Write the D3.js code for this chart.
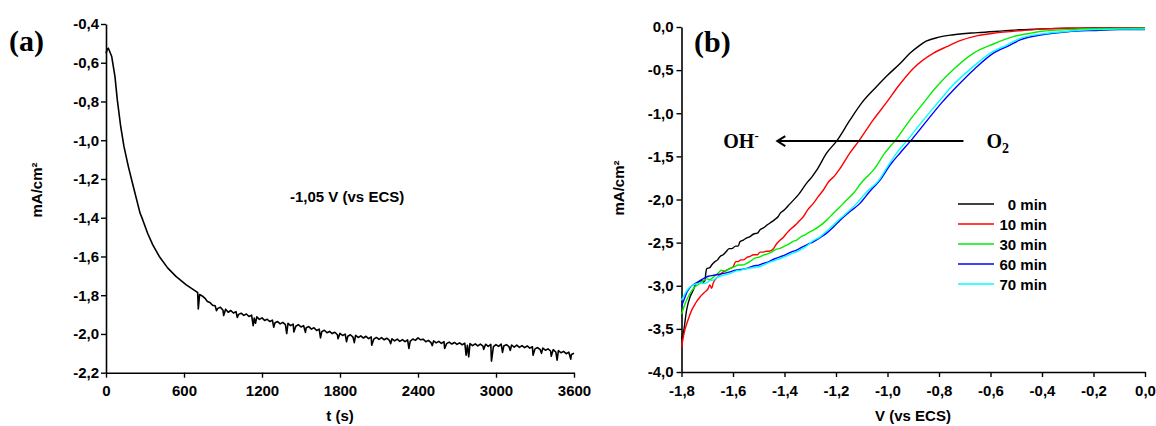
<!DOCTYPE html>
<html>
<head>
<meta charset="utf-8">
<script src="https://cdn.jsdelivr.net/npm/d3@7/dist/d3.min.js"></script>
<style>
  html, body { margin: 0; padding: 0; background: #fff; }
  svg { display: block; }
  .tick text { font-family: "Liberation Sans", Arial, sans-serif; font-weight: bold; font-size: 15px; fill: #000; }
  .lbl { font-family: "Liberation Sans", Arial, sans-serif; font-weight: bold; font-size: 15px; fill: #000; }
  .serif { font-family: "Liberation Serif", "Times New Roman", serif; font-weight: bold; fill: #000; }
</style>
</head>
<body>
<svg id="chart" width="1156" height="426"></svg>
<script>
// ---------------- Panel (a): chronoamperometry ----------------
// decay part
const tDecay = [0, 10, 18, 44, 69, 87, 113, 138, 172, 210, 262, 282, 320, 359, 410, 474, 538, 615, 692, 705];
const jDecay = [-0.551, -0.530, -0.525, -0.568, -0.672, -0.792, -0.929, -1.032, -1.136, -1.239, -1.376, -1.410, -1.480, -1.539, -1.600, -1.659, -1.703, -1.745, -1.780, -1.786];
// noisy plateau part
const tNoise = [720,740,760,780,800,820,840,860,880,900,920,940,960,980,1000,1020,1040,1060,1080,1100,1120,1140,1160,1180,1200,
  1220,1240,1260,1280,1300,1320,1340,1360,1380,1400,1420,1440,1460,1480,1500,1520,1540,1560,1580,1600,1620,1640,1660,1680,1700,
  1720,1740,1760,1780,1800,1820,1840,1860,1880,1900,1920,1940,1960,1980,2000,2020,2040,2060,2080,2100,2120,2140,2160,2180,2200,
  2220,2240,2260,2280,2300,2320,2340,2360,2380,2400,2420,2440,2460,2480,2500,2520,2540,2560,2580,2600,2620,2640,2660,2680,2700,
  2720,2740,2760,2780,2800,2820,2840,2860,2880,2900,2920,2940,2960,2980,3000,3020,3040,3060,3080,3100,3120,3140,3160,3180,3200,
  3220,3240,3260,3280,3300,3320,3340,3360,3380,3400,3420,3440,3460,3480,3500,3520,3540,3560,3580,3600];
const jNoise = [-1.796,-1.804,-1.815,-1.832,-1.838,-1.852,-1.855,-1.868,-1.862,-1.878,-1.872,-1.888,-1.879,-1.892,-1.885,-1.899,-1.893,-1.904,-1.897,-1.910,-1.903,-1.918,-1.912,-1.925,-1.917,
  -1.930,-1.924,-1.936,-1.929,-1.942,-1.936,-1.948,-1.940,-1.952,-1.945,-1.957,-1.949,-1.960,-1.952,-1.964,-1.957,-1.968,-1.962,-1.975,-1.968,-1.982,-1.975,-1.988,-1.981,-1.994,
  -1.987,-1.998,-1.991,-2.004,-1.997,-2.008,-2.001,-2.012,-2.004,-2.016,-2.007,-2.018,-2.010,-2.021,-2.012,-2.024,-2.015,-2.027,-2.018,-2.028,-2.019,-2.030,-2.022,-2.033,-2.025,
  -2.036,-2.027,-2.038,-2.029,-2.040,-2.031,-2.038,-2.026,-2.033,-2.020,-2.030,-2.027,-2.040,-2.033,-2.045,-2.036,-2.046,-2.038,-2.049,-2.040,-2.050,-2.042,-2.052,-2.044,-2.054,
  -2.046,-2.056,-2.048,-2.058,-2.050,-2.060,-2.051,-2.062,-2.052,-2.063,-2.053,-2.064,-2.054,-2.066,-2.055,-2.064,-2.052,-2.062,-2.055,-2.066,-2.057,-2.068,-2.058,-2.069,-2.060,
  -2.071,-2.062,-2.073,-2.066,-2.077,-2.070,-2.081,-2.073,-2.084,-2.077,-2.088,-2.081,-2.093,-2.086,-2.097,-2.090,-2.102,-2.094,-2.106,-2.100];
// downward spikes in the plateau
const tSpike = [710, 850, 905, 1010, 1132, 1150, 1290, 1390, 1445, 1534, 1650, 1785, 1850, 1910, 2044, 2190, 2330, 2510, 2605, 2770, 2790, 2905, 2965, 3050, 3110, 3285, 3350, 3425, 3470, 3575];
const jSpike = [-1.871, -1.880, -1.905, -1.915, -1.957, -1.945, -1.965, -1.998, -1.990, -1.992, -2.020, -2.025, -2.040, -2.045, -2.058, -2.050, -2.075, -2.060, -2.075, -2.110, -2.118, -2.080, -2.140, -2.095, -2.085, -2.110, -2.100, -2.115, -2.135, -2.130];
const xTicksA = [0, 600, 1200, 1800, 2400, 3000, 3600];
const xMinorA = [300, 900, 1500, 2100, 2700, 3300];
const yTicksA = [-0.4, -0.6, -0.8, -1.0, -1.2, -1.4, -1.6, -1.8, -2.0, -2.2];
const yMinorA = [-0.5, -0.7, -0.9, -1.1, -1.3, -1.5, -1.7, -1.9, -2.1];
const labelA = "(a)";
const xTitleA = "t (s)";
const yTitle = "mA/cm²";
const noteA = "-1,05 V (vs ECS)";

// ---------------- Panel (b): voltammograms ----------------
const seriesNames = ["0 min", "10 min", "30 min", "60 min", "70 min"];
const seriesColors = ["#000000", "#ff0000", "#00ee00", "#0000ff", "#00ffff"];
const v0 = [-1.800,-1.793,-1.780,-1.767,-1.754,-1.745,-1.735,-1.722,-1.715,-1.709,-1.705,-1.702,-1.690,-1.683,-1.670,-1.660,-1.650,-1.638,-1.625,-1.615,-1.605,-1.590,-1.580,-1.573,-1.560,-1.550,-1.534,-1.520,-1.505,-1.495,-1.482,-1.465,-1.450,-1.437,-1.425,-1.417,-1.400,-1.385,-1.366,-1.345,-1.314,-1.294,-1.275,-1.236,-1.197,-1.146,-1.100,-1.042,-1.000,-0.950,-0.913,-0.880,-0.850,-0.800,-0.750,-0.650,-0.550,-0.485,-0.400,-0.300,-0.200,0];
const j0 = [-3.62,-3.55,-3.28,-3.13,-3.05,-2.98,-2.96,-2.94,-2.96,-2.94,-2.84,-2.80,-2.79,-2.76,-2.72,-2.70,-2.66,-2.64,-2.60,-2.57,-2.57,-2.54,-2.54,-2.49,-2.47,-2.45,-2.43,-2.40,-2.39,-2.35,-2.33,-2.29,-2.26,-2.23,-2.20,-2.16,-2.12,-2.07,-2.01,-1.94,-1.81,-1.74,-1.66,-1.46,-1.32,-1.08,-0.88,-0.69,-0.56,-0.42,-0.305,-0.225,-0.165,-0.118,-0.092,-0.065,-0.045,-0.032,-0.022,-0.015,-0.010,-0.010];
const v10 = [-1.800,-1.790,-1.775,-1.760,-1.745,-1.728,-1.712,-1.696,-1.690,-1.683,-1.677,-1.660,-1.650,-1.638,-1.625,-1.612,-1.599,-1.590,-1.580,-1.570,-1.560,-1.545,-1.534,-1.520,-1.505,-1.495,-1.482,-1.470,-1.460,-1.443,-1.430,-1.417,-1.405,-1.391,-1.375,-1.359,-1.343,-1.327,-1.310,-1.288,-1.270,-1.249,-1.230,-1.204,-1.184,-1.146,-1.111,-1.056,-1.000,-0.959,-0.900,-0.823,-0.770,-0.718,-0.650,-0.589,-0.485,-0.400,-0.300,0];
const j10 = [-3.72,-3.55,-3.40,-3.28,-3.20,-3.13,-3.08,-3.03,-2.99,-3.03,-2.97,-2.90,-2.87,-2.84,-2.82,-2.80,-2.78,-2.72,-2.72,-2.70,-2.70,-2.67,-2.66,-2.64,-2.64,-2.61,-2.61,-2.60,-2.60,-2.57,-2.51,-2.47,-2.44,-2.39,-2.34,-2.30,-2.25,-2.20,-2.12,-2.045,-1.97,-1.89,-1.80,-1.72,-1.64,-1.46,-1.32,-1.08,-0.86,-0.69,-0.48,-0.305,-0.228,-0.159,-0.100,-0.073,-0.043,-0.025,-0.015,-0.010];
const v30 = [-1.800,-1.785,-1.767,-1.750,-1.728,-1.715,-1.700,-1.690,-1.677,-1.660,-1.645,-1.630,-1.612,-1.595,-1.580,-1.565,-1.547,-1.530,-1.515,-1.500,-1.482,-1.465,-1.450,-1.435,-1.417,-1.400,-1.385,-1.370,-1.353,-1.335,-1.320,-1.305,-1.288,-1.260,-1.236,-1.210,-1.184,-1.160,-1.133,-1.100,-1.081,-1.055,-1.010,-0.971,-0.913,-0.860,-0.809,-0.740,-0.667,-0.589,-0.511,-0.450,-0.400,-0.300,-0.200,0];
const j30 = [-3.33,-3.20,-3.09,-3.02,-2.97,-2.94,-2.92,-2.93,-2.90,-2.86,-2.82,-2.83,-2.80,-2.78,-2.76,-2.76,-2.74,-2.71,-2.68,-2.67,-2.645,-2.63,-2.61,-2.58,-2.567,-2.54,-2.52,-2.49,-2.47,-2.43,-2.41,-2.38,-2.355,-2.30,-2.239,-2.16,-2.085,-2.01,-1.93,-1.80,-1.74,-1.66,-1.46,-1.32,-1.08,-0.88,-0.69,-0.48,-0.305,-0.197,-0.112,-0.075,-0.050,-0.030,-0.020,-0.015];
const v60 = [-1.800,-1.790,-1.778,-1.767,-1.750,-1.728,-1.710,-1.695,-1.677,-1.660,-1.640,-1.612,-1.590,-1.570,-1.547,-1.520,-1.500,-1.482,-1.460,-1.440,-1.417,-1.395,-1.375,-1.353,-1.330,-1.310,-1.288,-1.260,-1.236,-1.210,-1.184,-1.150,-1.107,-1.070,-1.029,-0.990,-0.951,-0.910,-0.845,-0.790,-0.731,-0.660,-0.590,-0.524,-0.485,-0.400,-0.300,-0.200,-0.100,0];
const j60 = [-3.24,-3.16,-3.07,-3.02,-2.98,-2.94,-2.91,-2.89,-2.88,-2.87,-2.86,-2.84,-2.82,-2.81,-2.80,-2.77,-2.76,-2.74,-2.72,-2.69,-2.665,-2.64,-2.61,-2.587,-2.55,-2.52,-2.49,-2.44,-2.39,-2.32,-2.24,-2.15,-2.045,-1.91,-1.775,-1.60,-1.46,-1.32,-1.08,-0.88,-0.69,-0.48,-0.305,-0.209,-0.150,-0.090,-0.055,-0.040,-0.030,-0.030];
const v70 = [-1.800,-1.788,-1.775,-1.760,-1.745,-1.728,-1.715,-1.700,-1.690,-1.677,-1.660,-1.640,-1.612,-1.590,-1.570,-1.547,-1.520,-1.500,-1.482,-1.460,-1.440,-1.417,-1.395,-1.375,-1.353,-1.330,-1.310,-1.290,-1.262,-1.230,-1.197,-1.160,-1.120,-1.080,-1.033,-1.000,-0.964,-0.925,-0.861,-0.805,-0.751,-0.675,-0.602,-0.537,-0.485,-0.400,-0.300,-0.200,-0.100,0];
const j70 = [-3.17,-3.10,-3.04,-3.00,-2.98,-2.97,-2.975,-2.96,-2.94,-2.935,-2.90,-2.88,-2.86,-2.83,-2.82,-2.80,-2.79,-2.78,-2.76,-2.73,-2.71,-2.684,-2.66,-2.63,-2.607,-2.57,-2.53,-2.48,-2.433,-2.35,-2.258,-2.16,-2.045,-1.91,-1.775,-1.62,-1.46,-1.32,-1.08,-0.88,-0.69,-0.48,-0.305,-0.209,-0.131,-0.080,-0.050,-0.030,-0.025,-0.025];
const xTicksB = [-1.8, -1.6, -1.4, -1.2, -1.0, -0.8, -0.6, -0.4, -0.2, 0.0];
const xMinorB = [-1.7, -1.5, -1.3, -1.1, -0.9, -0.7, -0.5, -0.3, -0.1];
const yTicksB = [0.0, -0.5, -1.0, -1.5, -2.0, -2.5, -3.0, -3.5, -4.0];
const yMinorB = [-0.25, -0.75, -1.25, -1.75, -2.25, -2.75, -3.25, -3.75];
const labelB = "(b)";
const xTitleB = "V (vs ECS)";
const arrowV = [-0.705, -1.428];   // arrow from O2 (right) to OH- (left)
const arrowJ = -1.323;

// ---------------- Drawing ----------------
const svg = d3.select("#chart");
const fmt1 = d => (d < 0 ? "-" : "") + Math.abs(d).toFixed(1).replace(".", ",");

const xA = d3.scaleLinear().domain([0, 3600]).range([106, 574]);
const yA = d3.scaleLinear().domain([-0.4, -2.2]).range([24, 372.7]);
const xB = d3.scaleLinear().domain([-1.8, 0]).range([681.5, 1145]);
const yB = d3.scaleLinear().domain([0, -4]).range([27, 372]);

function drawAxes(xS, yS, xT, xM, yT, yM, xFmt, yFmt, yPad) {
  const y0 = yS.range()[1], x0 = xS.range()[0];
  const gx = svg.append("g").attr("transform", `translate(0,${y0})`);
  gx.call(d3.axisBottom(xS).tickValues(xM).tickSize(3).tickSizeOuter(0).tickFormat(""));
  gx.call(d3.axisBottom(xS).tickValues(xT).tickSize(5).tickPadding(8).tickSizeOuter(0).tickFormat(xFmt));
  const gy = svg.append("g").attr("transform", `translate(${x0},0)`);
  gy.call(d3.axisLeft(yS).tickValues(yM).tickSize(3).tickSizeOuter(0).tickFormat(""));
  gy.call(d3.axisLeft(yS).tickValues(yT).tickSize(5).tickPadding(yPad).tickSizeOuter(0).tickFormat(yFmt));
  [gx, gy].forEach(g => {
    g.selectAll("path.domain").attr("stroke", "#000").attr("stroke-width", 1.6);
    g.selectAll(".tick line").attr("stroke", "#000").attr("stroke-width", 1.4);
  });
}

drawAxes(xA, yA, xTicksA, xMinorA, yTicksA, yMinorA, d => String(d), fmt1, 2);
drawAxes(xB, yB, xTicksB, xMinorB, yTicksB, yMinorB, fmt1, fmt1, 3);

// Panel (a) curve: decay + plateau + spikes, ordered by time
const ptsA = [];
tDecay.forEach((t, i) => ptsA.push([t, jDecay[i]]));
tNoise.forEach((t, i) => ptsA.push([t, jNoise[i]]));
tSpike.forEach((t, i) => ptsA.push([t, jSpike[i]]));
ptsA.sort((a, b) => a[0] - b[0]);
const lineA = d3.line().x(d => xA(d[0])).y(d => yA(d[1]));
svg.append("path").attr("d", lineA(ptsA))
  .attr("fill", "none").attr("stroke", "#000").attr("stroke-width", 1.6).attr("stroke-linejoin", "round");

// Panel (b) curves
const vs = [v0, v10, v30, v60, v70];
const js = [j0, j10, j30, j60, j70];
vs.forEach((v, k) => {
  const ln = d3.line().curve(d3.curveMonotoneX).x(i => xB(v[i])).y(i => yB(js[k][i]));
  svg.append("path").attr("d", ln(d3.range(v.length)))
    .attr("fill", "none").attr("stroke", seriesColors[k]).attr("stroke-width", 1.4).attr("stroke-linejoin", "round");
});

// Legend
const leg = svg.append("g");
seriesNames.forEach((n, k) => {
  const yy = 204 + k * 20;
  leg.append("line").attr("x1", 958).attr("x2", 994).attr("y1", yy).attr("y2", yy)
    .attr("stroke", seriesColors[k]).attr("stroke-width", 1.6);
  leg.append("text").attr("class", "lbl").attr("x", 1047).attr("y", yy + 5.5)
    .attr("text-anchor", "end").text(n);
});

// Axis titles
svg.append("text").attr("class", "lbl").attr("x", 340).attr("y", 421).attr("text-anchor", "middle").text(xTitleA);
svg.append("text").attr("class", "lbl").attr("x", 913).attr("y", 421).attr("text-anchor", "middle").text(xTitleB);
svg.append("text").attr("class", "lbl").attr("transform", "translate(42,190) rotate(-90)").attr("text-anchor", "middle").text(yTitle);
svg.append("text").attr("class", "lbl").attr("transform", "translate(624,188) rotate(-90)").attr("text-anchor", "middle").text(yTitle);

// Panel labels
svg.append("text").attr("class", "serif").attr("x", 9).attr("y", 51).attr("font-size", 30).text(labelA);
svg.append("text").attr("class", "serif").attr("x", 694).attr("y", 52).attr("font-size", 30).text(labelB);

// Note in panel (a)
svg.append("text").attr("class", "lbl").attr("x", 290).attr("y", 202).text(noteA);

// Arrow and species labels in panel (b)
const ay = yB(arrowJ), ax1 = xB(arrowV[0]), ax2 = xB(arrowV[1]);
svg.append("line").attr("x1", ax1).attr("x2", ax2).attr("y1", ay).attr("y2", ay).attr("stroke", "#000").attr("stroke-width", 2);
svg.append("path").attr("d", `M${ax2 + 8},${ay - 5} L${ax2},${ay} L${ax2 + 8},${ay + 5}`)
  .attr("fill", "none").attr("stroke", "#000").attr("stroke-width", 2);
const oh = svg.append("text").attr("class", "serif").attr("x", ax2 - 54).attr("y", ay + 7).attr("font-size", 20);
oh.append("tspan").text("OH");
oh.append("tspan").attr("dy", -8).attr("font-size", 13).text("-");
const o2 = svg.append("text").attr("class", "serif").attr("x", ax1 + 23).attr("y", ay + 7).attr("font-size", 20);
o2.append("tspan").text("O");
o2.append("tspan").attr("dy", 5).attr("font-size", 14).text("2");
</script>
</body>
</html>
